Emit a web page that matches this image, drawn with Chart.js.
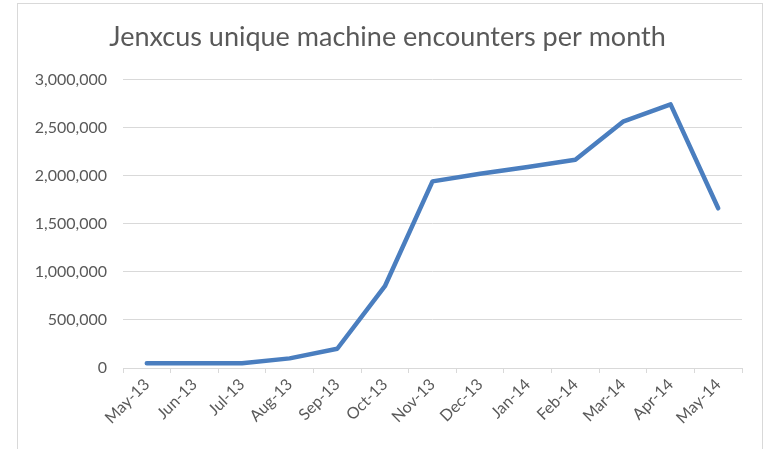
<!DOCTYPE html>
<html>
<head>
<meta charset="utf-8">
<script src="https://cdn.jsdelivr.net/npm/chart.js@4"></script>
<style>
    html, body { margin: 0; padding: 0; background: #ffffff; }
    #frame {
        position: absolute;
        left: 17px;
        top: 3px;
        width: 744px;
        height: 470px;
        border: 1px solid #d9d9d9;
    }
    #wrap { position: absolute; left: 0; top: 0; width: 765px; height: 449px; }
</style>
</head>
<body>
<div id="frame"></div>
<div id="wrap"><canvas id="encounterChart" width="765" height="449"></canvas></div>
<script>
const months = ['May-13', 'Jun-13', 'Jul-13', 'Aug-13', 'Sep-13', 'Oct-13', 'Nov-13',
    'Dec-13', 'Jan-14', 'Feb-14', 'Mar-14', 'Apr-14', 'May-14'];

const encounters = [50000, 50000, 50000, 100000, 200000, 850000, 1940000,
    2020000, 2090000, 2165000, 2560000, 2740000, 1660000];

const yTicks = [0, 500000, 1000000, 1500000, 2000000, 2500000, 3000000];

const textColor = '#595959';
const gridColor = '#d9d9d9';

const ctx = document.getElementById('encounterChart').getContext('2d');

const encounterChart = new Chart(ctx, {
    type: 'line',
    data: {
        labels: months,
        datasets: [{
            label: 'Encounters',
            data: encounters,
            borderColor: '#4a7ebf',
            borderWidth: 4.5,
            borderCapStyle: 'round',
            borderJoinStyle: 'round',
            pointRadius: 0,
            tension: 0,
            fill: false
        }]
    },

    options: {
        responsive: false,
        animation: false,
        layout: {
            padding: { left: 33, right: 23, top: 0, bottom: 0 }
        },

        plugins: {
            legend: { display: false },
            tooltip: { enabled: false },
            title: {
                display: true,
                text: 'Jenxcus unique machine encounters per month',
                color: textColor,
                font: { family: 'Lato', size: 27, weight: 'normal' },
                padding: { top: 21, bottom: 26 }
            }
        },

        scales: {
            y: {
                min: yTicks[0],
                max: yTicks[yTicks.length - 1],
                afterBuildTicks: scale => {
                    scale.ticks = yTicks.map(v => ({ value: v }));
                },
                afterFit: scale => { scale.width = 90; },
                border: { display: false },
                grid: {
                    color: gridColor,
                    lineWidth: 1,
                    drawTicks: false
                },
                ticks: {
                    color: textColor,
                    padding: 16,
                    font: { family: 'Lato', size: 16 },
                    callback: v => v.toLocaleString('en-US')
                }
            },

            x: {
                offset: true,
                afterFit: scale => { scale.height = 81; },
                border: { display: true, color: gridColor, width: 1 },
                grid: {
                    offset: true,
                    drawOnChartArea: false,
                    drawTicks: true,
                    tickLength: 5,
                    color: gridColor
                },
                ticks: {
                    color: textColor,
                    minRotation: 45,
                    maxRotation: 45,
                    autoSkip: false,
                    padding: 2,
                    font: { family: 'Lato', size: 16 }
                }
            }
        }
    }
});
</script>
</body>
</html>
